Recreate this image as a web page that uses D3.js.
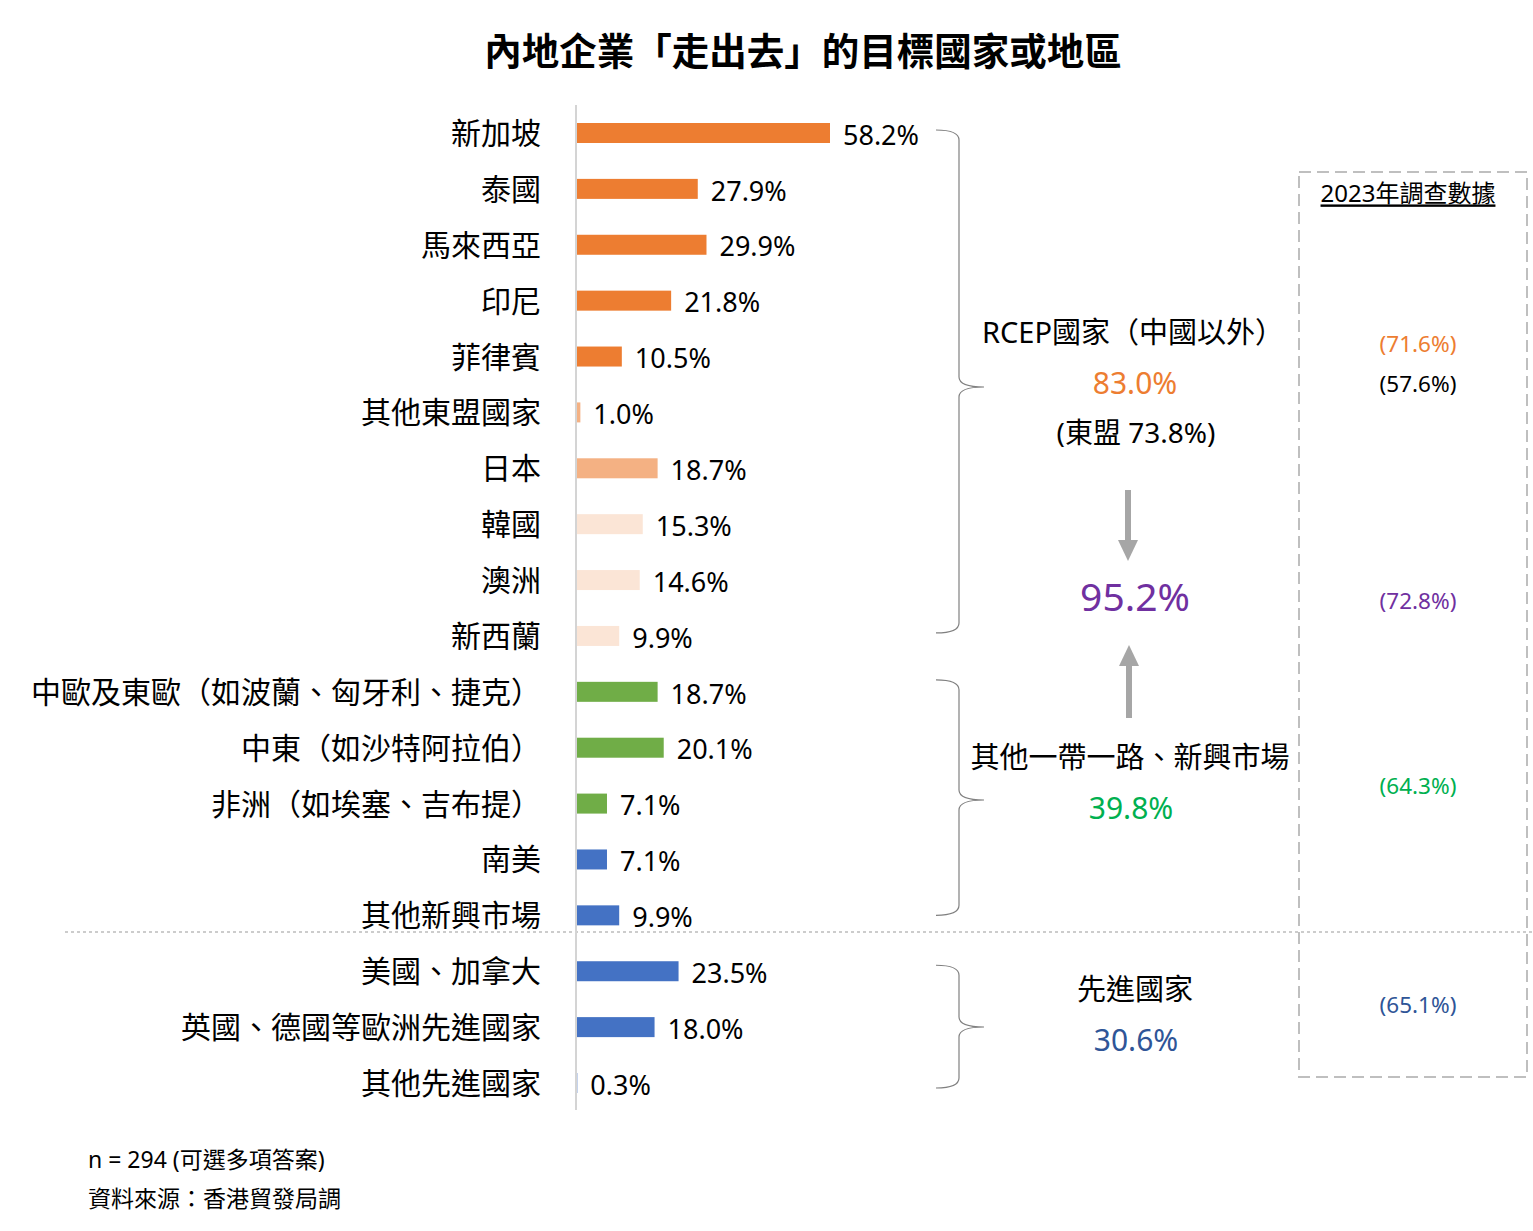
<!DOCTYPE html>
<html><head><meta charset="utf-8">
<script src="https://cdn.jsdelivr.net/npm/d3@7"></script>
<style>
body{margin:0;background:#fff;}
svg text{font-family:"Noto Sans","Noto Sans CJK TC",sans-serif;}
</style></head>
<body>
<svg id="chart" width="1533" height="1231"></svg>
<script>
const categories = ["新加坡","泰國","馬來西亞","印尼","菲律賓","其他東盟國家","日本","韓國","澳洲","新西蘭",
  "中歐及東歐（如波蘭、匈牙利、捷克）","中東（如沙特阿拉伯）","非洲（如埃塞、吉布提）","南美","其他新興市場",
  "美國、加拿大","英國、德國等歐洲先進國家","其他先進國家"];
const values = [58.2,27.9,29.9,21.8,10.5,1.0,18.7,15.3,14.6,9.9,18.7,20.1,7.1,7.1,9.9,23.5,18.0,0.3];
const tiers = ["asean","asean","asean","asean","asean","aseanOther","japan","pale","pale","pale",
  "bri","bri","bri","emerging","emerging","advanced","advanced","advanced"];
const groupNames = ["RCEP國家（中國以外）","其他一帶一路、新興市場","先進國家"];
const groupValues = ["83.0%","39.8%","30.6%"];
const aseanNote = "(東盟 73.8%)";
const totalValue = "95.2%";
const prev2023Title = "2023年調查數據";
const prev2023 = ["(71.6%)","(57.6%)","(72.8%)","(64.3%)","(65.1%)"];
const title = "內地企業「走出去」的目標國家或地區";
const notes = ["n = 294 (可選多項答案)","資料來源：香港貿發局調"];

const tierColor = {asean:"#ED7D31",aseanOther:"#F4B183",japan:"#F4B183",pale:"#FBE5D6",
  bri:"#70AD47",emerging:"#4472C4",advanced:"#4472C4"};

const svg = d3.select("#chart");
const x = d3.scaleLinear().domain([0,58.2]).range([576,830]);
const y = d3.scalePoint().domain(categories).range([133,1083]);
const barH = 20;

// title
svg.append("text").attr("x",803).attr("y",55).attr("text-anchor","middle")
  .attr("dominant-baseline","middle").style("font-family","'Noto Sans CJK TC'")
  .style("font-weight","bold").style("font-size","37.5px").attr("fill","#000").text(title);

// dashed separator
svg.append("line").attr("x1",65).attr("x2",1533).attr("y1",932).attr("y2",932)
  .attr("stroke","#999").attr("stroke-width",1).attr("stroke-dasharray","3,3");

// bars
svg.selectAll("rect.bar").data(categories).join("rect").attr("class","bar")
  .attr("x",x(0)).attr("y",d=>y(d)-barH/2).attr("height",barH)
  .attr("width",(d,i)=>x(values[i])-x(0)).attr("fill",(d,i)=>tierColor[tiers[i]]);

// axis line
const yAxis = d3.axisLeft(y).tickSize(0).tickPadding(35);
const ax = svg.append("g").attr("transform","translate(576,0)").call(yAxis);
ax.select(".domain").attr("d","M0,105V1110").attr("stroke","#d4d4d4").attr("stroke-width",2);
ax.selectAll("text").style("font-family","'Noto Sans CJK TC'").style("font-size","30px")
  .attr("fill","#000").attr("dy","0.35em");

// value labels
svg.selectAll("text.val").data(categories).join("text").attr("class","val")
  .attr("x",(d,i)=>x(values[i])+13).attr("y",d=>y(d)+2).attr("dy","0.36em")
  .style("font-size","27px").attr("fill","#000").text((d,i)=>values[i].toFixed(1)+"%");

// braces
function brace(x0,x1,y0,y1,ym,tip){
  const r=10;
  return `M${x0},${y0} Q${x1},${y0} ${x1},${y0+r} L${x1},${ym-r} Q${x1},${ym} ${tip},${ym} `+
         `Q${x1},${ym} ${x1},${ym+r} L${x1},${y1-r} Q${x1},${y1} ${x0},${y1}`;
}
const braces = [[y(categories[0])-3,y(categories[9])-3,387],
                 [y(categories[10])-12,y(categories[14]),800],
                 [y(categories[15])-6,y(categories[17])+5,1027]];
braces.forEach(b=>{
  svg.append("path").attr("d",brace(936,959,b[0],b[1],b[2],984))
    .attr("fill","none").attr("stroke","#808080").attr("stroke-width",1.2);
});

// group texts
function txt(xp,yp,s,size,color){
  return svg.append("text").attr("x",xp).attr("y",yp).attr("text-anchor","middle")
    .attr("dominant-baseline","middle").style("font-size",size+"px").attr("fill",color).text(s);
}
txt(1133,335,groupNames[0],29,"#000");
txt(1135,386,groupValues[0],30,"#ED7D31");
txt(1136,435,aseanNote,28,"#000");
txt(1135,601,totalValue,39,"#7030A0");
txt(1130,760,groupNames[1],29,"#000");
txt(1131,811,groupValues[1],30,"#00B050");
txt(1135,992,groupNames[2],29,"#000");
txt(1136,1043,groupValues[2],30,"#2F5597");

// arrows
svg.append("line").attr("x1",1128).attr("x2",1128).attr("y1",490).attr("y2",542)
  .attr("stroke","#A6A6A6").attr("stroke-width",6);
svg.append("path").attr("d","M1118,540 L1138,540 L1128,561 Z").attr("fill","#A6A6A6");
svg.append("line").attr("x1",1129).attr("x2",1129).attr("y1",718).attr("y2",664)
  .attr("stroke","#A6A6A6").attr("stroke-width",6);
svg.append("path").attr("d","M1119,666 L1139,666 L1129,645 Z").attr("fill","#A6A6A6");

// 2023 box
svg.append("rect").attr("x",1299).attr("y",172).attr("width",228).attr("height",905)
  .attr("fill","none").attr("stroke","#BFBFBF").attr("stroke-width",2).attr("stroke-dasharray","12,6");
txt(1408,196,prev2023Title,24,"#000").style("text-decoration","underline");
const prevY = [346,386,603,788,1007];
const prevC = ["#ED7D31","#000","#7030A0","#00B050","#2F5597"];
prev2023.forEach((s,i)=>txt(1418,prevY[i],s,22.5,prevC[i]));

// notes
svg.append("text").attr("x",88).attr("y",1162).attr("dominant-baseline","middle")
  .style("font-size","23px").attr("fill","#000").text(notes[0]);
svg.append("text").attr("x",88).attr("y",1201).attr("dominant-baseline","middle")
  .style("font-size","23px").attr("fill","#000").text(notes[1]);
</script>
</body></html>
